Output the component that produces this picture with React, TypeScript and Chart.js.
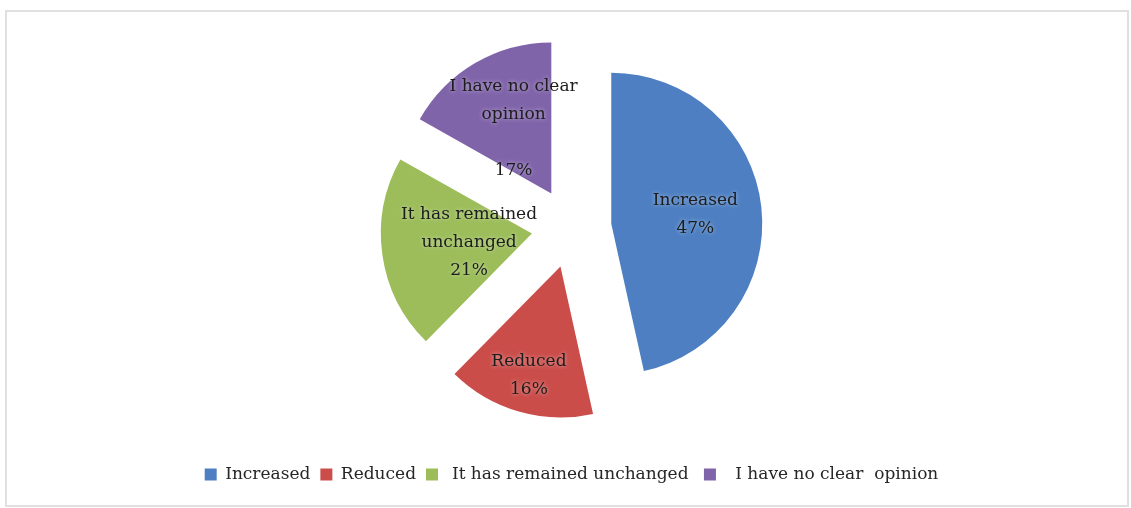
import React, { useEffect, useRef } from 'react';
import { Chart, registerables } from 'chart.js';

Chart.register(...registerables);

// ---- data ----
const categories = ['Increased', 'Reduced', 'It has remained unchanged', 'I have no clear opinion'];
const values = [47, 16, 21, 17];
const legendLabels = ['Increased', 'Reduced', ' It has remained unchanged ', '  I have no clear  opinion'];
const sliceNameLines = [['Increased'], ['Reduced'], ['It has remained', 'unchanged'], ['I have no clear', 'opinion', '']];

// ---- style ----
const sliceColors = ['#4D7FC2', '#CA4D4A', '#9CBD5A', '#8064AA'];
const PIE_RADIUS = 151;
const EXPLODE = 40;
const LABEL_RADIUS = [0.56, 0.755, 0.42, 0.495];
const LINE_HEIGHT = 28;
const FONT_FAMILY = '"DejaVu Serif", "Liberation Serif", serif';
const WORD_SPACING = '2.5px';

const wordSpacingPlugin = {
  id: 'wordSpacing',
  beforeLayout(chart: any) {
    (chart.ctx as any).wordSpacing = WORD_SPACING;
  },
  beforeDraw(chart: any) {
    (chart.ctx as any).wordSpacing = WORD_SPACING;
  },
};

const explodePlugin = {
  id: 'explodeSlices',
  beforeDatasetDraw(chart: any, args: any) {
    const meta = chart.getDatasetMeta(args.index);
    meta.data.forEach((arc: any) => {
      const mid = (arc.startAngle + arc.endAngle) / 2;
      arc.__orig = [arc.x, arc.y];
      arc.x = arc.x + Math.cos(mid) * EXPLODE;
      arc.y = arc.y + Math.sin(mid) * EXPLODE;
    });
  },
  afterDatasetDraw(chart: any, args: any) {
    const meta = chart.getDatasetMeta(args.index);
    meta.data.forEach((arc: any) => {
      if (arc.__orig) {
        arc.x = arc.__orig[0];
        arc.y = arc.__orig[1];
      }
    });
  },
};

const sliceLabelPlugin = {
  id: 'sliceLabels',
  afterDatasetsDraw(chart: any) {
    const ctx = chart.ctx;
    const meta = chart.getDatasetMeta(0);
    ctx.save();
    (ctx as any).wordSpacing = WORD_SPACING;
    ctx.font = `17px ${FONT_FAMILY}`;
    ctx.fillStyle = '#1c1c1c';
    ctx.textAlign = 'center';
    ctx.textBaseline = 'middle';
    ctx.shadowColor = 'rgba(255,255,255,0.55)';
    ctx.shadowBlur = 4;
    meta.data.forEach((arc: any, i: number) => {
      const mid = (arc.startAngle + arc.endAngle) / 2;
      const r = EXPLODE + LABEL_RADIUS[i] * arc.outerRadius;
      const cx = arc.x + Math.cos(mid) * r;
      const cy = arc.y + Math.sin(mid) * r;
      const lines = [...sliceNameLines[i], `${values[i]}%`];
      const startY = cy - ((lines.length - 1) * LINE_HEIGHT) / 2;
      lines.forEach((line, j) => {
        if (line) ctx.fillText(line, cx, startY + j * LINE_HEIGHT);
      });
    });
    ctx.restore();
  },
};

export default function App() {
  const canvasRef = useRef<HTMLCanvasElement | null>(null);

  useEffect(() => {
    if (!canvasRef.current) return;
    const chart = new Chart(canvasRef.current, {
      type: 'pie',
      data: {
        labels: categories,
        datasets: [
          {
            data: values,
            backgroundColor: sliceColors,
            borderWidth: 0,
          },
        ],
      },
      options: {
        animation: false,
        responsive: true,
        maintainAspectRatio: false,
        radius: PIE_RADIUS,
        layout: { padding: { left: 12, top: 0, right: 0, bottom: 15 } },
        plugins: {
          tooltip: { enabled: false },
          legend: {
            display: true,
            position: 'bottom',
            labels: {
              boxWidth: 12,
              boxHeight: 12,
              padding: 10,
              color: '#262626',
              font: { family: FONT_FAMILY, size: 17 },
              generateLabels: (c: any) =>
                c.data.labels.map((_: string, i: number) => ({
                  text: legendLabels[i],
                  fillStyle: sliceColors[i],
                  strokeStyle: sliceColors[i],
                  lineWidth: 0,
                  hidden: false,
                  index: i,
                  fontColor: '#262626',
                })),
            },
          },
        },
      } as any,
      plugins: [wordSpacingPlugin, explodePlugin, sliceLabelPlugin],
    });
    return () => chart.destroy();
  }, []);

  return (
    <div style={{ position: 'fixed', left: 0, top: 0, width: 1131, height: 508, background: '#ffffff' }}>
      <div
        style={{
          position: 'absolute',
          left: 5,
          top: 10,
          width: 1124,
          height: 497,
          border: '2px solid #e0e0e0',
          boxSizing: 'border-box',
        }}
      />
      <div style={{ position: 'absolute', left: 0, top: 0, width: 1131, height: 508 }}>
        <canvas ref={canvasRef} />
      </div>
    </div>
  );
}
